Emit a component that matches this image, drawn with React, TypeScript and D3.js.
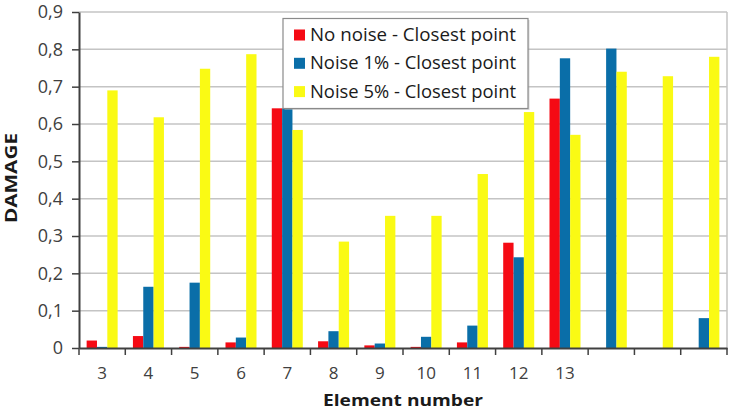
import * as d3 from "d3";
import { useEffect, useRef } from "react";

const categories = ["3", "4", "5", "6", "7", "8", "9", "10", "11", "12", "13", "14", "15", "16"];
const tickLabels = ["3", "4", "5", "6", "7", "8", "9", "10", "11", "12", "13", "", "", ""];
const seriesNames = ["No noise - Closest point", "Noise 1% - Closest point", "Noise 5% - Closest point"];
const noNoise = [0.02, 0.032, 0.003, 0.015, 0.642, 0.018, 0.007, 0.003, 0.015, 0.282, 0.668, 0, 0, 0];
const noise1 = [0.003, 0.164, 0.175, 0.028, 0.642, 0.045, 0.012, 0.03, 0.06, 0.243, 0.776, 0.802, 0, 0.08];
const noise5 = [0.69, 0.618, 0.748, 0.787, 0.584, 0.285, 0.354, 0.354, 0.466, 0.632, 0.571, 0.74, 0.728, 0.78];
const yTicks = [0, 0.1, 0.2, 0.3, 0.4, 0.5, 0.6, 0.7, 0.8, 0.9];
const colors = ["#f50a14", "#0a6ea8", "#fafa14"];

export default function App() {
  const ref = useRef<SVGSVGElement>(null);
  const width = 737;
  const height = 411;
  const marginTop = 12;
  const marginRight = 10;
  const marginBottom = 63;
  const marginLeft = 79;

  useEffect(() => {
    const svg = d3.select(ref.current);
    svg.selectAll("*").remove();
    const font = "'Open Sans', Lato, sans-serif";
    const textColor = "#404040";

    const x = d3
      .scaleBand()
      .domain(categories)
      .range([marginLeft, width - marginRight])
      .padding(0);
    const step = x.bandwidth();
    const inner = d3
      .scaleBand()
      .domain(seriesNames)
      .range([step * 0.165, step * 0.835])
      .padding(0);
    const y = d3
      .scaleLinear()
      .domain([0, 0.9])
      .range([height - marginBottom, marginTop]);

    // gridlines
    svg
      .append("g")
      .selectAll("line")
      .data(yTicks.slice(1))
      .join("line")
      .attr("x1", marginLeft)
      .attr("x2", width - marginRight)
      .attr("y1", (d) => y(d))
      .attr("y2", (d) => y(d))
      .attr("stroke", "#c4c4c4")
      .attr("stroke-width", 1.5);
    // right border
    svg
      .append("line")
      .attr("x1", width - marginRight)
      .attr("x2", width - marginRight)
      .attr("y1", y(0.9))
      .attr("y2", y(0))
      .attr("stroke", "#c4c4c4")
      .attr("stroke-width", 1.5);

    const all = [noNoise, noise1, noise5];
    const rows = categories.map((c, i) => ({
      cat: c,
      vals: seriesNames.map((s, k) => ({ s, k, v: all[k][i] })),
    }));

    svg
      .append("g")
      .selectAll("g")
      .data(rows)
      .join("g")
      .attr("transform", (d) => `translate(${x(d.cat)},0)`)
      .selectAll("rect")
      .data((d) => d.vals)
      .join("rect")
      .attr("x", (d) => inner(d.s)!)
      .attr("width", inner.bandwidth())
      .attr("y", (d) => y(d.v))
      .attr("height", (d) => y(0) - y(d.v))
      .attr("fill", (d) => colors[d.k]);

    // x axis
    const xAxis = svg
      .append("g")
      .attr("transform", `translate(0,${height - marginBottom})`)
      .call(
        d3
          .axisBottom(x)
          .tickSize(0)
          .tickFormat((d, i) => tickLabels[i])
      );
    xAxis.select(".domain").attr("stroke", textColor).attr("stroke-width", 2);
    xAxis
      .selectAll(".tick text")
      .attr("dy", 0)
      .attr("y", 31)
      .attr("font-size", 17)
      .attr("font-family", font)
      .attr("fill", textColor);
    const boundaries = categories.map((c) => x(c)!).concat([width - marginRight]);
    xAxis
      .selectAll("line.bound")
      .data(boundaries)
      .join("line")
      .attr("class", "bound")
      .attr("x1", (d) => d)
      .attr("x2", (d) => d)
      .attr("y1", 0)
      .attr("y2", 7)
      .attr("stroke", textColor)
      .attr("stroke-width", 1.5);

    // y axis
    const yAxis = svg
      .append("g")
      .attr("transform", `translate(${marginLeft},0)`)
      .call(
        d3
          .axisLeft(y)
          .tickValues(yTicks)
          .tickSize(7)
          .tickSizeOuter(0)
          .tickPadding(9)
          .tickFormat((d) => (d === 0 ? "0" : d3.format(".1f")(d as number).replace(".", ",")))
      );
    yAxis.select(".domain").attr("stroke", textColor).attr("stroke-width", 2);
    yAxis.selectAll(".tick line").attr("stroke", textColor).attr("stroke-width", 1.5);
    yAxis
      .selectAll(".tick text")
      .attr("font-size", 18)
      .attr("font-family", font)
      .attr("fill", textColor);

    // axis titles
    svg
      .append("text")
      .attr("transform", `translate(17,178) rotate(-90)`)
      .attr("text-anchor", "middle")
      .attr("font-family", font)
      .attr("font-weight", "bold")
      .attr("font-size", 16)
      .attr("fill", "#1a1a1a")
      .attr("textLength", 90)
      .attr("lengthAdjust", "spacingAndGlyphs")
      .text("DAMAGE");
    svg
      .append("text")
      .attr("x", 403)
      .attr("y", 406)
      .attr("text-anchor", "middle")
      .attr("font-family", font)
      .attr("font-weight", "bold")
      .attr("font-size", 16)
      .attr("fill", "#1a1a1a")
      .attr("textLength", 160)
      .attr("lengthAdjust", "spacingAndGlyphs")
      .text("Element number");

    // legend
    const lg = svg.append("g").attr("transform", "translate(283,18.5)");
    lg.append("rect")
      .attr("x", 1.5)
      .attr("y", 1.5)
      .attr("width", 245)
      .attr("height", 90)
      .attr("fill", "#b0b0b0")
      .attr("opacity", 0.5);
    lg.append("rect")
      .attr("width", 245)
      .attr("height", 90)
      .attr("fill", "white")
      .attr("stroke", "#8a8a8a")
      .attr("stroke-width", 1.2);
    const items = lg
      .selectAll("g.item")
      .data(seriesNames)
      .join("g")
      .attr("class", "item")
      .attr("transform", (d, i) => `translate(11,${16.5 + i * 28.3})`);
    items
      .append("rect")
      .attr("x", 0)
      .attr("y", -5.5)
      .attr("width", 11)
      .attr("height", 11)
      .attr("fill", (d, i) => colors[i]);
    items
      .append("text")
      .attr("x", 16)
      .attr("y", 0)
      .attr("dy", "0.35em")
      .attr("font-family", font)
      .attr("font-size", 17.5)
      .attr("fill", "#1a1a1a")
      .attr("textLength", 206)
      .attr("lengthAdjust", "spacingAndGlyphs")
      .text((d) => d);
  }, []);

  return (
    <svg
      ref={ref}
      width={width}
      height={height}
      style={{ position: "absolute", left: 0, top: 0, background: "white" }}
    />
  );
}
